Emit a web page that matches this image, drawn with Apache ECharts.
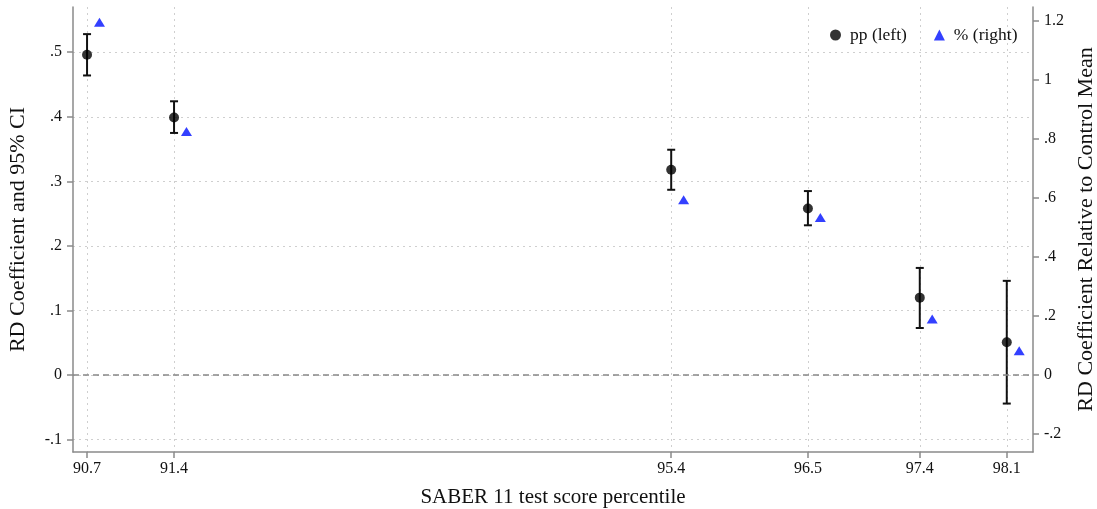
<!DOCTYPE html>
<html><head><meta charset="utf-8">
<script src="https://cdn.jsdelivr.net/npm/echarts@6/dist/echarts.min.js"></script>
<style>html,body{margin:0;padding:0;background:#fff}#c{width:1097px;height:509px}</style>
</head><body><div id="c"></div>
<script>
const percentiles = [90.7, 91.4, 95.4, 96.5, 97.4, 98.1];
const ppCoef = [0.496, 0.399, 0.318, 0.258, 0.120, 0.051];
const ppLow  = [0.464, 0.375, 0.287, 0.232, 0.073, -0.044];
const ppHigh = [0.528, 0.424, 0.349, 0.285, 0.166, 0.146];
const pctX   = [90.8, 91.5, 95.5, 96.6, 97.5, 98.2];
const pctVal = [1.194, 0.824, 0.593, 0.533, 0.189, 0.082];
const xTicks = [90.7, 91.4, 95.4, 96.5, 97.4, 98.1];
const leftTicks = [-0.1, 0, 0.1, 0.2, 0.3, 0.4, 0.5];
const rightTicks = [-0.2, 0, 0.2, 0.4, 0.6, 0.8, 1.0, 1.2];

const FONT = '"Liberation Serif", "DejaVu Serif", serif';
const fmt = v => { let s = (Math.round(v * 10) / 10).toString(); return s.replace(/^(-?)0\./, '$1.'); };

const chart = echarts.init(document.getElementById('c'), null, {renderer: 'canvas'});
const axisLineStyle = {color: '#8a8a8a', width: 1.5};
chart.setOption({
  animation: false,
  grid: {left: 73, right: 64, top: 7, bottom: 57, containLabel: false, outerBoundsMode: 'none'},
  legend: {
    left: 825, top: 21, itemWidth: 11, itemHeight: 11, itemGap: 27,
    textStyle: {fontFamily: FONT, fontSize: 17.5, color: '#111', padding: [0, 0, 0, 4]},
    data: [{name: 'pp (left)', icon: 'circle'}, {name: '% (right)', icon: 'triangle'}]
  },
  xAxis: {
    type: 'value', min: 90.587, max: 98.311,
    name: 'SABER 11 test score percentile', nameLocation: 'middle', nameGap: 35,
    nameTextStyle: {fontFamily: FONT, fontSize: 21, color: '#111'},
    axisLine: {onZero: false, lineStyle: axisLineStyle},
    axisTick: {show: true, length: 6, customValues: xTicks, lineStyle: axisLineStyle},
    axisLabel: {customValues: xTicks, fontFamily: FONT, fontSize: 16, color: '#111', margin: 9, formatter: v => v.toFixed(1)},
    splitLine: {show: true, lineStyle: {color: '#cfcfcf', type: [2, 4], width: 1}}
  },
  yAxis: [{
    type: 'value', min: -0.119, max: 0.570, position: 'left',
    name: 'RD Coefficient and 95% CI', nameLocation: 'middle', nameGap: 44,
    nameTextStyle: {fontFamily: FONT, fontSize: 22, color: '#111'},
    axisLine: {show: true, onZero: false, lineStyle: axisLineStyle},
    axisTick: {show: true, length: 6, customValues: leftTicks, lineStyle: axisLineStyle},
    axisLabel: {customValues: leftTicks, fontFamily: FONT, fontSize: 16, color: '#111', margin: 11, formatter: fmt},
    splitLine: {show: true, lineStyle: {color: '#cfcfcf', type: [2, 4], width: 1}}
  }, {
    type: 'value', min: -0.261, max: 1.246, position: 'right',
    name: 'RD Coefficient Relative to Control Mean', nameLocation: 'middle', nameGap: 42,
    nameRotate: 90,
    nameTextStyle: {fontFamily: FONT, fontSize: 22, color: '#111'},
    axisLine: {show: true, onZero: false, lineStyle: axisLineStyle},
    axisTick: {show: true, length: 6, customValues: rightTicks, lineStyle: axisLineStyle},
    axisLabel: {customValues: rightTicks, fontFamily: FONT, fontSize: 16, color: '#111', margin: 11, formatter: fmt},
    splitLine: {show: false}
  }],
  series: [{
    type: 'custom', name: 'ci', yAxisIndex: 0, z: 3,
    data: percentiles.map((x, i) => [x, ppLow[i], ppHigh[i]]),
    renderItem: (params, api) => {
      const lo = api.coord([api.value(0), api.value(1)]);
      const hi = api.coord([api.value(0), api.value(2)]);
      const w = 4;
      const st = {stroke: '#111', lineWidth: 2};
      return {type: 'group', children: [
        {type: 'line', shape: {x1: lo[0], y1: lo[1], x2: hi[0], y2: hi[1]}, style: st},
        {type: 'line', shape: {x1: lo[0] - w, y1: lo[1], x2: lo[0] + w, y2: lo[1]}, style: st},
        {type: 'line', shape: {x1: hi[0] - w, y1: hi[1], x2: hi[0] + w, y2: hi[1]}, style: st}
      ]};
    },
    markLine: {silent: true, symbol: 'none', label: {show: false},
      lineStyle: {color: '#888', type: [6, 4], width: 1.5},
      data: [{yAxis: 0}]}
  }, {
    type: 'scatter', name: 'pp (left)', yAxisIndex: 0, z: 4,
    symbol: 'circle', symbolSize: 10, itemStyle: {color: '#000'},
    data: percentiles.map((x, i) => [x, ppCoef[i]])
  }, {
    type: 'scatter', name: '% (right)', yAxisIndex: 1, z: 4,
    symbol: 'triangle', symbolSize: [11, 9], itemStyle: {color: '#0010ff'},
    data: pctX.map((x, i) => [x, pctVal[i]])
  }]
});
</script></body></html>
